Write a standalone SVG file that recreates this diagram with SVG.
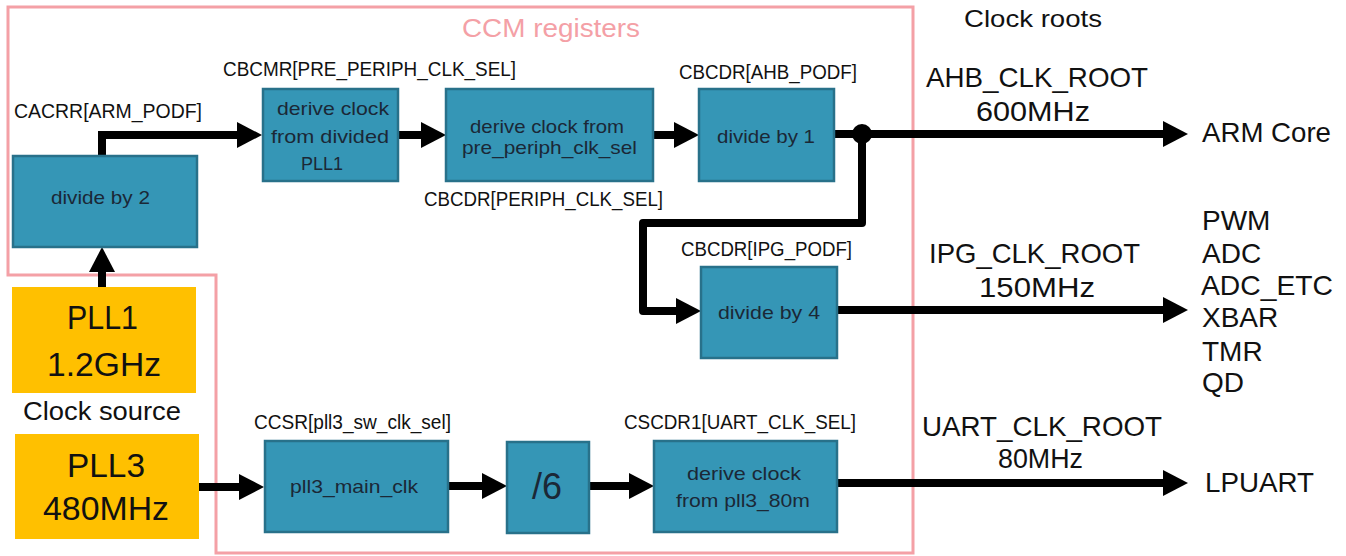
<svg xmlns="http://www.w3.org/2000/svg" width="1346" height="556" viewBox="0 0 1346 556">
<style>
text{font-family:"Liberation Sans",Arial,sans-serif;fill:#111}
.reg{font-size:20px}
.bt{font-size:19px;fill:#1b2836}
.big{font-size:33px}
.root{font-size:28px}
.blk{fill:#3596B6;stroke:#28718A;stroke-width:2.5}
.pll{fill:#FFC000}
.wire{fill:none;stroke:#000;stroke-width:8}
</style>
<defs>
<marker id="ah" markerUnits="userSpaceOnUse" markerWidth="25" markerHeight="26" refX="3" refY="13" orient="auto">
<path d="M0,0 L25,13 L0,26 z" fill="#000"/>
</marker>
</defs>
<rect width="1346" height="556" fill="#fff"/>
<g id="ccm">
<path d="M8,7 H913 V553 H216 V275 H8 Z" fill="none" stroke="#F4A0A6" stroke-width="3"/>
<text x="462" y="37" font-size="26" textLength="178" lengthAdjust="spacingAndGlyphs" style="fill:#F4A0A6">CCM registers</text>
</g>
<text x="964" y="27" font-size="24" textLength="138" lengthAdjust="spacingAndGlyphs">Clock roots</text>
<g id="connectors">
<path class="wire" d="M102,156 V135 H240" marker-end="url(#ah)"/>
<path class="wire" d="M102,287 V269" marker-end="url(#ah)"/>
<path class="wire" d="M398,135 H424" marker-end="url(#ah)"/>
<path class="wire" d="M653,135 H677" marker-end="url(#ah)"/>
<path class="wire" d="M834,134 H1166" marker-end="url(#ah)"/>
<path class="wire" d="M862,134 V223 H643 V311 H679" stroke-linejoin="round" marker-end="url(#ah)"/>
<circle cx="862" cy="134" r="10" fill="#000"/>
<path class="wire" d="M837,310 H1166" marker-end="url(#ah)"/>
<path class="wire" d="M199,487 H242" marker-end="url(#ah)"/>
<path class="wire" d="M448,486 H485" marker-end="url(#ah)"/>
<path class="wire" d="M589,486 H632" marker-end="url(#ah)"/>
<path class="wire" d="M837,483 H1166" marker-end="url(#ah)"/>
</g>
<g id="pll1">
<rect class="pll" x="12" y="287" width="184" height="106"/>
<text class="big" x="67" y="329" textLength="71" lengthAdjust="spacingAndGlyphs">PLL1</text>
<text class="big" x="47" y="376" textLength="114" lengthAdjust="spacingAndGlyphs">1.2GHz</text>
</g>
<text x="23" y="420" font-size="25" textLength="158" lengthAdjust="spacingAndGlyphs">Clock source</text>
<g id="pll3">
<rect class="pll" x="15" y="434" width="184" height="105"/>
<text class="big" x="67" y="477" textLength="78" lengthAdjust="spacingAndGlyphs">PLL3</text>
<text class="big" x="43" y="520" textLength="126" lengthAdjust="spacingAndGlyphs">480MHz</text>
</g>
<g id="div2">
<text class="reg" x="14" y="118" textLength="188" lengthAdjust="spacingAndGlyphs">CACRR[ARM_PODF]</text>
<rect class="blk" x="13" y="156" width="184" height="91"/>
<text class="bt" x="51" y="204" textLength="99" lengthAdjust="spacingAndGlyphs">divide by 2</text>
</g>
<g id="preperiph">
<text class="reg" x="223" y="76" textLength="293" lengthAdjust="spacingAndGlyphs">CBCMR[PRE_PERIPH_CLK_SEL]</text>
<rect class="blk" x="263" y="89" width="135" height="92"/>
<text class="bt" x="277" y="115" textLength="112" lengthAdjust="spacingAndGlyphs">derive clock</text>
<text class="bt" x="271" y="143" textLength="118" lengthAdjust="spacingAndGlyphs">from divided</text>
<text class="bt" x="301" y="170" textLength="42" lengthAdjust="spacingAndGlyphs">PLL1</text>
</g>
<g id="periph">
<rect class="blk" x="446" y="89" width="207" height="92"/>
<text class="bt" x="470" y="133" textLength="154" lengthAdjust="spacingAndGlyphs">derive clock from</text>
<text class="bt" x="462" y="154" textLength="175" lengthAdjust="spacingAndGlyphs">pre_periph_clk_sel</text>
<text class="reg" x="424" y="206" textLength="239" lengthAdjust="spacingAndGlyphs">CBCDR[PERIPH_CLK_SEL]</text>
</g>
<g id="div1">
<text class="reg" x="679" y="79" textLength="178" lengthAdjust="spacingAndGlyphs">CBCDR[AHB_PODF]</text>
<rect class="blk" x="699" y="89" width="135" height="92"/>
<text class="bt" x="717" y="143" textLength="98" lengthAdjust="spacingAndGlyphs">divide by 1</text>
</g>
<g id="div4">
<text class="reg" x="681" y="256" textLength="171" lengthAdjust="spacingAndGlyphs">CBCDR[IPG_PODF]</text>
<rect class="blk" x="701" y="267" width="136" height="91"/>
<text class="bt" x="718" y="319" textLength="102" lengthAdjust="spacingAndGlyphs">divide by 4</text>
</g>
<g id="pll3main">
<text class="reg" x="254" y="429" textLength="197" lengthAdjust="spacingAndGlyphs">CCSR[pll3_sw_clk_sel]</text>
<rect class="blk" x="265" y="441" width="183" height="91"/>
<text class="bt" x="290" y="493" textLength="128" lengthAdjust="spacingAndGlyphs">pll3_main_clk</text>
</g>
<g id="div6">
<rect class="blk" x="507" y="442" width="82" height="91"/>
<text class="bt" x="532" y="499" font-size="36" textLength="30" lengthAdjust="spacingAndGlyphs" style="font-size:36px">/6</text>
</g>
<g id="uartsel">
<text class="reg" x="624" y="429" textLength="232" lengthAdjust="spacingAndGlyphs">CSCDR1[UART_CLK_SEL]</text>
<rect class="blk" x="654" y="441" width="183" height="91"/>
<text class="bt" x="687" y="480" textLength="114" lengthAdjust="spacingAndGlyphs">derive clock</text>
<text class="bt" x="676" y="507" textLength="134" lengthAdjust="spacingAndGlyphs">from pll3_80m</text>
</g>
<g id="ahb">
<text class="root" x="926" y="87" textLength="222" lengthAdjust="spacingAndGlyphs">AHB_CLK_ROOT</text>
<text class="root" x="976" y="121" textLength="114" lengthAdjust="spacingAndGlyphs">600MHz</text>
</g>
<g id="ipg">
<text class="root" x="929" y="263" textLength="211" lengthAdjust="spacingAndGlyphs">IPG_CLK_ROOT</text>
<text class="root" x="979" y="297" textLength="116" lengthAdjust="spacingAndGlyphs">150MHz</text>
</g>
<g id="uart">
<text class="root" x="922" y="436" textLength="240" lengthAdjust="spacingAndGlyphs">UART_CLK_ROOT</text>
<text class="root" x="998" y="468" textLength="85" lengthAdjust="spacingAndGlyphs">80MHz</text>
</g>
<g id="armcore">
<text class="root" x="1202" y="142" textLength="129" lengthAdjust="spacingAndGlyphs">ARM Core</text>
</g>
<g id="ipgperiph">
<text class="root" x="1202" y="230">PWM</text>
<text class="root" x="1202" y="263">ADC</text>
<text class="root" x="1201" y="295" textLength="132" lengthAdjust="spacingAndGlyphs">ADC_ETC</text>
<text class="root" x="1202" y="327">XBAR</text>
<text class="root" x="1202" y="361">TMR</text>
<text class="root" x="1202" y="392">QD</text>
</g>
<g id="lpuart">
<text class="root" x="1205" y="492" textLength="109" lengthAdjust="spacingAndGlyphs">LPUART</text>
</g>
</svg>
